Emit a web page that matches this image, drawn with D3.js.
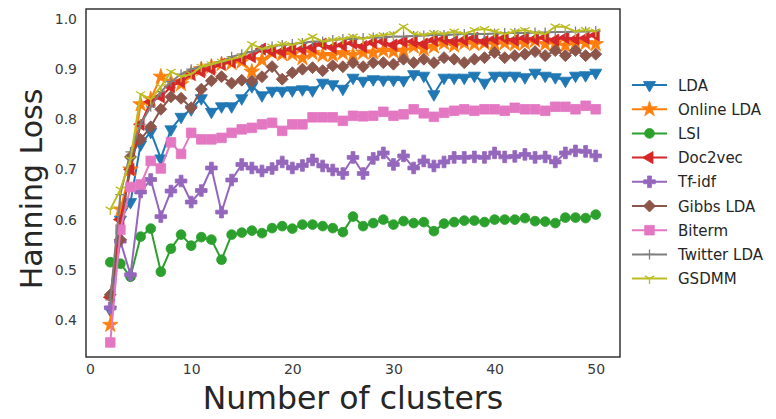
<!DOCTYPE html>
<html>
<head>
<meta charset="utf-8">
<script src="https://cdn.jsdelivr.net/npm/d3@7"></script>
<style>
  html, body { margin: 0; padding: 0; background: #fff; }
  svg { display: block; font-family: "DejaVu Sans", sans-serif; }
</style>
</head>
<body>
<svg id="chart" width="776" height="419"></svg>
<script>
// Number of clusters on the x axis
const clusters = d3.range(2, 51);

const ldaValues = [0.42,0.6,0.635,0.75,0.775,0.722,0.78,0.805,0.82,0.842,0.815,0.826,0.826,0.842,0.866,0.848,0.857,0.857,0.858,0.86,0.858,0.873,0.87,0.861,0.883,0.877,0.88,0.879,0.879,0.878,0.89,0.887,0.85,0.883,0.883,0.883,0.887,0.873,0.887,0.887,0.887,0.884,0.893,0.887,0.884,0.877,0.887,0.888,0.893];
const onlineLdaValues = [0.39,0.62,0.70,0.83,0.84,0.885,0.875,0.87,0.89,0.9,0.905,0.91,0.912,0.915,0.895,0.918,0.933,0.93,0.93,0.922,0.932,0.928,0.928,0.932,0.928,0.933,0.933,0.937,0.935,0.937,0.945,0.94,0.945,0.952,0.947,0.952,0.95,0.952,0.95,0.952,0.95,0.952,0.957,0.95,0.952,0.947,0.952,0.952,0.95];
const lsiValues = [0.515,0.512,0.486,0.566,0.582,0.496,0.542,0.57,0.548,0.565,0.56,0.52,0.57,0.574,0.578,0.573,0.583,0.587,0.582,0.59,0.59,0.587,0.583,0.575,0.606,0.587,0.593,0.6,0.59,0.597,0.593,0.595,0.577,0.592,0.595,0.598,0.598,0.595,0.6,0.6,0.6,0.603,0.597,0.596,0.593,0.604,0.604,0.603,0.61];
const doc2vecValues = [0.445,0.6,0.7,0.79,0.835,0.845,0.865,0.875,0.89,0.895,0.9,0.91,0.915,0.92,0.925,0.94,0.935,0.935,0.94,0.94,0.943,0.95,0.943,0.948,0.952,0.945,0.953,0.955,0.948,0.955,0.955,0.95,0.958,0.96,0.955,0.958,0.962,0.955,0.96,0.962,0.958,0.962,0.96,0.963,0.958,0.963,0.96,0.962,0.968];
const tfidfValues = [0.424,0.557,0.49,0.655,0.68,0.606,0.657,0.677,0.635,0.658,0.703,0.615,0.679,0.71,0.703,0.697,0.702,0.715,0.703,0.708,0.719,0.707,0.699,0.692,0.724,0.692,0.722,0.733,0.71,0.727,0.703,0.717,0.707,0.715,0.724,0.724,0.725,0.724,0.733,0.725,0.726,0.73,0.724,0.725,0.715,0.733,0.737,0.736,0.727];
const gibbsLdaValues = [0.45,0.56,0.725,0.76,0.785,0.82,0.845,0.842,0.823,0.86,0.877,0.885,0.872,0.878,0.876,0.885,0.905,0.88,0.893,0.9,0.903,0.897,0.907,0.905,0.913,0.905,0.913,0.913,0.91,0.92,0.913,0.92,0.913,0.923,0.92,0.913,0.92,0.923,0.933,0.923,0.927,0.93,0.935,0.927,0.937,0.927,0.937,0.927,0.93];
const bitermValues = [0.355,0.58,0.665,0.67,0.717,0.702,0.754,0.731,0.773,0.76,0.76,0.763,0.773,0.78,0.783,0.79,0.793,0.777,0.79,0.79,0.804,0.804,0.804,0.797,0.807,0.806,0.807,0.815,0.807,0.81,0.82,0.812,0.805,0.813,0.817,0.82,0.817,0.82,0.82,0.817,0.823,0.82,0.82,0.817,0.825,0.825,0.82,0.827,0.82];
const twitterLdaValues = [0.44,0.65,0.735,0.79,0.825,0.855,0.875,0.89,0.9,0.905,0.91,0.915,0.925,0.93,0.935,0.94,0.945,0.948,0.95,0.952,0.955,0.955,0.958,0.96,0.96,0.962,0.963,0.963,0.965,0.965,0.966,0.967,0.968,0.968,0.969,0.97,0.97,0.97,0.971,0.972,0.972,0.972,0.973,0.973,0.974,0.974,0.975,0.975,0.976];
const gsdmmValues = [0.62,0.66,0.72,0.85,0.84,0.865,0.895,0.885,0.89,0.905,0.91,0.915,0.92,0.925,0.95,0.94,0.945,0.95,0.948,0.955,0.965,0.955,0.958,0.96,0.965,0.96,0.965,0.968,0.97,0.985,0.97,0.968,0.972,0.97,0.975,0.97,0.978,0.98,0.975,0.97,0.975,0.978,0.972,0.97,0.985,0.984,0.975,0.978,0.975];

const seriesNames = ["LDA","Online LDA","LSI","Doc2vec","Tf-idf","Gibbs LDA","Biterm","Twitter LDA","GSDMM"];
const seriesColors = ["#1f77b4","#ff7f0e","#2ca02c","#d62728","#9467bd","#8c564b","#e377c2","#7f7f7f","#bcbd22"];
const seriesMarkers = ["triangleDown","star","circle","triangleLeft","plus","diamond","square","thinPlus","triDown"];
const seriesValues = [ldaValues, onlineLdaValues, lsiValues, doc2vecValues, tfidfValues, gibbsLdaValues, bitermValues, twitterLdaValues, gsdmmValues];

const xTicks = [0, 10, 20, 30, 40, 50];
const yTicks = [0.4, 0.5, 0.6, 0.7, 0.8, 0.9, 1.0];

const svg = d3.select("#chart");
const plot = { left: 86, top: 9, right: 620, bottom: 357 };

const x = d3.scaleLinear().domain([-0.4, 52.4]).range([plot.left, plot.right]);
const y = d3.scaleLinear().domain([0.326, 1.020]).range([plot.bottom, plot.top]);

// Marker shapes
function markerPath(kind) {
  const tri = d3.symbol().type(d3.symbolTriangle).size(64)();
  switch (kind) {
    case "triangleDown": return { d: tri, rotate: 180, fill: true };
    case "triangleLeft": return { d: tri, rotate: -90, fill: true };
    case "star": return { d: d3.symbol().type(d3.symbolStar).size(75)(), rotate: 0, fill: true };
    case "circle": return { d: d3.symbol().type(d3.symbolCircle).size(75)(), rotate: 0, fill: true };
    case "plus": return { d: d3.symbol().type(d3.symbolCross).size(75)(), rotate: 0, fill: true };
    case "diamond": return { d: d3.symbol().type(d3.symbolSquare).size(72)(), rotate: 45, fill: true };
    case "square": return { d: d3.symbol().type(d3.symbolSquare).size(92)(), rotate: 0, fill: true };
    case "thinPlus": return { d: "M-5,0H5M0,-5V5", rotate: 0, fill: false };
    case "triDown": return { d: "M0,0V5.5M0,0L-4.7,-2.7M0,0L4.7,-2.7", rotate: 0, fill: false };
  }
}

function drawMarker(g, kind, color, cx, cy) {
  const m = markerPath(kind);
  g.append("path")
    .attr("d", m.d)
    .attr("transform", `translate(${cx},${cy}) rotate(${m.rotate})`)
    .attr("fill", m.fill ? color : "none")
    .attr("stroke", color)
    .attr("stroke-width", m.fill ? 0.8 : 1.3);
}

const clip = svg.append("defs").append("clipPath").attr("id", "plotClip");
clip.append("rect").attr("x", plot.left).attr("y", plot.top)
  .attr("width", plot.right - plot.left).attr("height", plot.bottom - plot.top);

const line = d3.line().x((d, i) => x(clusters[i])).y(d => y(d));

const marks = svg.append("g").attr("clip-path", "url(#plotClip)");
seriesValues.forEach((vals, s) => {
  const g = marks.append("g");
  g.append("path")
    .attr("d", line(vals))
    .attr("fill", "none")
    .attr("stroke", seriesColors[s])
    .attr("stroke-width", 2)
    .attr("stroke-linejoin", "round");
  vals.forEach((v, i) => drawMarker(g, seriesMarkers[s], seriesColors[s], x(clusters[i]), y(v)));
});

// Axes (labels only, no tick marks)
const xAxis = d3.axisBottom(x).tickValues(xTicks).tickSize(0).tickPadding(7).tickFormat(d3.format("d"));
const yAxis = d3.axisLeft(y).tickValues(yTicks).tickSize(0).tickPadding(9).tickFormat(d3.format(".1f"));

const gx = svg.append("g").attr("transform", `translate(0,${plot.bottom})`).call(xAxis);
const gy = svg.append("g").attr("transform", `translate(${plot.left},0)`).call(yAxis);
[gx, gy].forEach(g => {
  g.select(".domain").remove();
  g.selectAll("text").attr("font-size", 14).attr("fill", "#3a3a3a").attr("font-family", "DejaVu Sans, sans-serif");
});

// Frame
svg.append("rect")
  .attr("x", plot.left).attr("y", plot.top)
  .attr("width", plot.right - plot.left).attr("height", plot.bottom - plot.top)
  .attr("fill", "none").attr("stroke", "#262626").attr("stroke-width", 1.4);

// Axis titles
svg.append("text")
  .attr("x", (plot.left + plot.right) / 2).attr("y", 409)
  .attr("text-anchor", "middle").attr("font-size", 31.5).attr("fill", "#262626")
  .text("Number of clusters");
svg.append("text")
  .attr("transform", `translate(42,${(plot.top + plot.bottom) / 2 + 6}) rotate(-90)`)
  .attr("text-anchor", "middle").attr("font-size", 30).attr("fill", "#262626")
  .text("Hanning Loss");

// Legend
const legend = svg.append("g");
seriesNames.forEach((name, s) => {
  const ly = 85 + s * 24.2;
  legend.append("line").attr("x1", 632).attr("x2", 667).attr("y1", ly).attr("y2", ly)
    .attr("stroke", seriesColors[s]).attr("stroke-width", 2);
  drawMarker(legend, seriesMarkers[s], seriesColors[s], 649.5, ly);
  legend.append("text").attr("x", 678).attr("y", ly + 5.5)
    .attr("font-size", 15).attr("fill", "#262626").text(name);
});
</script>
</body>
</html>
